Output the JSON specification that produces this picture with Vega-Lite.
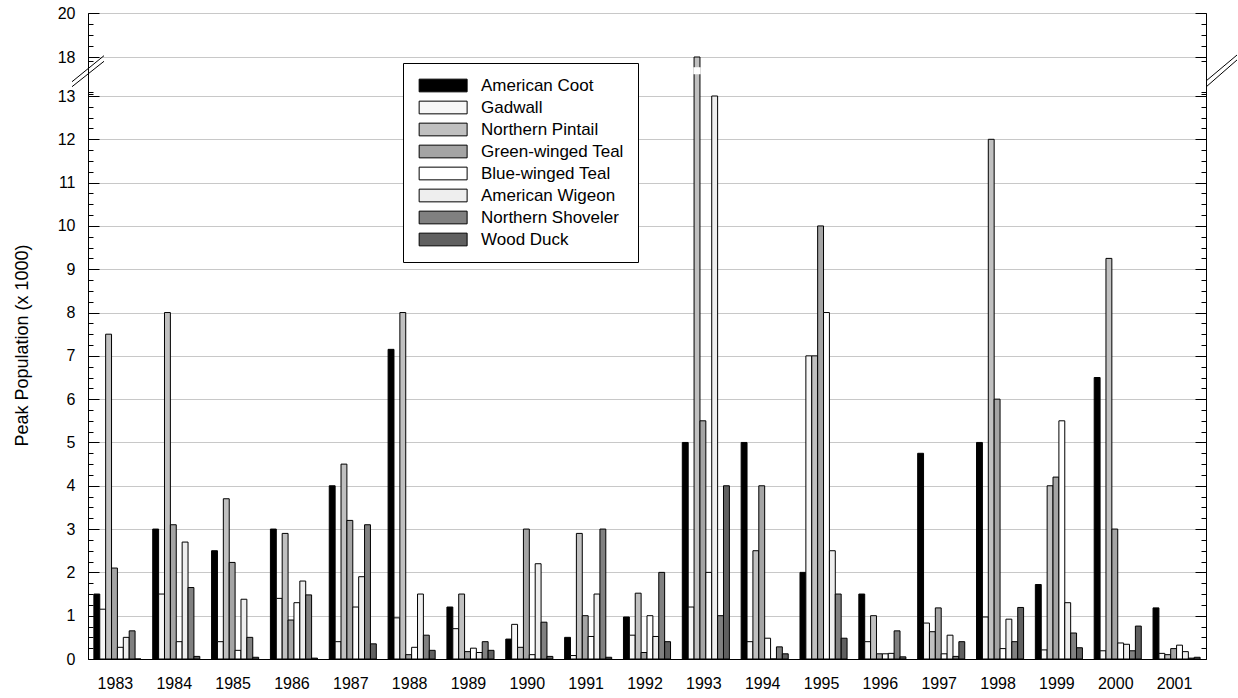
{
  "$schema": "https://vega.github.io/schema/vega-lite/v6.json",
  "width": 1118,
  "height": 646,
  "autosize": {"type": "none"},
  "padding": {"left": 88, "top": 13, "right": 32, "bottom": 39},
  "background": "white",
  "config": {
    "font": "Liberation Sans",
    "view": {"stroke": "black", "strokeWidth": 1},
    "axis": {"domainColor": "black", "tickColor": "black", "labelColor": "black", "titleColor": "black", "domainWidth": 1, "tickWidth": 1}
  },
  "datasets": {
    "peaks": [
      {"year": 1983, "species": "American Coot", "peak": 1.5},
      {"year": 1983, "species": "Gadwall", "peak": 1.15},
      {"year": 1983, "species": "Northern Pintail", "peak": 7.5},
      {"year": 1983, "species": "Green-winged Teal", "peak": 2.1},
      {"year": 1983, "species": "Blue-winged Teal", "peak": 0.27},
      {"year": 1983, "species": "American Wigeon", "peak": 0.5},
      {"year": 1983, "species": "Northern Shoveler", "peak": 0.65},
      {"year": 1983, "species": "Wood Duck", "peak": 0},
      {"year": 1984, "species": "American Coot", "peak": 3.0},
      {"year": 1984, "species": "Gadwall", "peak": 1.5},
      {"year": 1984, "species": "Northern Pintail", "peak": 8.0},
      {"year": 1984, "species": "Green-winged Teal", "peak": 3.1},
      {"year": 1984, "species": "Blue-winged Teal", "peak": 0.4},
      {"year": 1984, "species": "American Wigeon", "peak": 2.7},
      {"year": 1984, "species": "Northern Shoveler", "peak": 1.65},
      {"year": 1984, "species": "Wood Duck", "peak": 0.06},
      {"year": 1985, "species": "American Coot", "peak": 2.5},
      {"year": 1985, "species": "Gadwall", "peak": 0.4},
      {"year": 1985, "species": "Northern Pintail", "peak": 3.7},
      {"year": 1985, "species": "Green-winged Teal", "peak": 2.23},
      {"year": 1985, "species": "Blue-winged Teal", "peak": 0.2},
      {"year": 1985, "species": "American Wigeon", "peak": 1.38},
      {"year": 1985, "species": "Northern Shoveler", "peak": 0.5},
      {"year": 1985, "species": "Wood Duck", "peak": 0.04},
      {"year": 1986, "species": "American Coot", "peak": 3.0},
      {"year": 1986, "species": "Gadwall", "peak": 1.4},
      {"year": 1986, "species": "Northern Pintail", "peak": 2.9},
      {"year": 1986, "species": "Green-winged Teal", "peak": 0.9},
      {"year": 1986, "species": "Blue-winged Teal", "peak": 1.3},
      {"year": 1986, "species": "American Wigeon", "peak": 1.8},
      {"year": 1986, "species": "Northern Shoveler", "peak": 1.48},
      {"year": 1986, "species": "Wood Duck", "peak": 0.02},
      {"year": 1987, "species": "American Coot", "peak": 4.0},
      {"year": 1987, "species": "Gadwall", "peak": 0.4},
      {"year": 1987, "species": "Northern Pintail", "peak": 4.5},
      {"year": 1987, "species": "Green-winged Teal", "peak": 3.2},
      {"year": 1987, "species": "Blue-winged Teal", "peak": 1.2},
      {"year": 1987, "species": "American Wigeon", "peak": 1.9},
      {"year": 1987, "species": "Northern Shoveler", "peak": 3.1},
      {"year": 1987, "species": "Wood Duck", "peak": 0.35},
      {"year": 1988, "species": "American Coot", "peak": 7.15},
      {"year": 1988, "species": "Gadwall", "peak": 0.95},
      {"year": 1988, "species": "Northern Pintail", "peak": 8.0},
      {"year": 1988, "species": "Green-winged Teal", "peak": 0.1},
      {"year": 1988, "species": "Blue-winged Teal", "peak": 0.27},
      {"year": 1988, "species": "American Wigeon", "peak": 1.5},
      {"year": 1988, "species": "Northern Shoveler", "peak": 0.55},
      {"year": 1988, "species": "Wood Duck", "peak": 0.2},
      {"year": 1989, "species": "American Coot", "peak": 1.2},
      {"year": 1989, "species": "Gadwall", "peak": 0.7},
      {"year": 1989, "species": "Northern Pintail", "peak": 1.5},
      {"year": 1989, "species": "Green-winged Teal", "peak": 0.17},
      {"year": 1989, "species": "Blue-winged Teal", "peak": 0.25},
      {"year": 1989, "species": "American Wigeon", "peak": 0.15},
      {"year": 1989, "species": "Northern Shoveler", "peak": 0.4},
      {"year": 1989, "species": "Wood Duck", "peak": 0.2},
      {"year": 1990, "species": "American Coot", "peak": 0.46},
      {"year": 1990, "species": "Gadwall", "peak": 0.8},
      {"year": 1990, "species": "Northern Pintail", "peak": 0.27},
      {"year": 1990, "species": "Green-winged Teal", "peak": 3.0},
      {"year": 1990, "species": "Blue-winged Teal", "peak": 0.1},
      {"year": 1990, "species": "American Wigeon", "peak": 2.2},
      {"year": 1990, "species": "Northern Shoveler", "peak": 0.85},
      {"year": 1990, "species": "Wood Duck", "peak": 0.06},
      {"year": 1991, "species": "American Coot", "peak": 0.5},
      {"year": 1991, "species": "Gadwall", "peak": 0.08},
      {"year": 1991, "species": "Northern Pintail", "peak": 2.9},
      {"year": 1991, "species": "Green-winged Teal", "peak": 1.0},
      {"year": 1991, "species": "Blue-winged Teal", "peak": 0.52},
      {"year": 1991, "species": "American Wigeon", "peak": 1.5},
      {"year": 1991, "species": "Northern Shoveler", "peak": 3.0},
      {"year": 1991, "species": "Wood Duck", "peak": 0.04},
      {"year": 1992, "species": "American Coot", "peak": 0.97},
      {"year": 1992, "species": "Gadwall", "peak": 0.55},
      {"year": 1992, "species": "Northern Pintail", "peak": 1.52},
      {"year": 1992, "species": "Green-winged Teal", "peak": 0.15},
      {"year": 1992, "species": "Blue-winged Teal", "peak": 1.0},
      {"year": 1992, "species": "American Wigeon", "peak": 0.52},
      {"year": 1992, "species": "Northern Shoveler", "peak": 2.0},
      {"year": 1992, "species": "Wood Duck", "peak": 0.4},
      {"year": 1993, "species": "American Coot", "peak": 5.0},
      {"year": 1993, "species": "Gadwall", "peak": 1.2},
      {"year": 1993, "species": "Northern Pintail", "peak": 18.0},
      {"year": 1993, "species": "Green-winged Teal", "peak": 5.5},
      {"year": 1993, "species": "Blue-winged Teal", "peak": 2.0},
      {"year": 1993, "species": "American Wigeon", "peak": 13.0},
      {"year": 1993, "species": "Northern Shoveler", "peak": 1.0},
      {"year": 1993, "species": "Wood Duck", "peak": 4.0},
      {"year": 1994, "species": "American Coot", "peak": 5.0},
      {"year": 1994, "species": "Gadwall", "peak": 0.4},
      {"year": 1994, "species": "Northern Pintail", "peak": 2.5},
      {"year": 1994, "species": "Green-winged Teal", "peak": 4.0},
      {"year": 1994, "species": "Blue-winged Teal", "peak": 0.48},
      {"year": 1994, "species": "American Wigeon", "peak": 0},
      {"year": 1994, "species": "Northern Shoveler", "peak": 0.28},
      {"year": 1994, "species": "Wood Duck", "peak": 0.12},
      {"year": 1995, "species": "American Coot", "peak": 2.0},
      {"year": 1995, "species": "Gadwall", "peak": 7.0},
      {"year": 1995, "species": "Northern Pintail", "peak": 7.0},
      {"year": 1995, "species": "Green-winged Teal", "peak": 10.0},
      {"year": 1995, "species": "Blue-winged Teal", "peak": 8.0},
      {"year": 1995, "species": "American Wigeon", "peak": 2.5},
      {"year": 1995, "species": "Northern Shoveler", "peak": 1.5},
      {"year": 1995, "species": "Wood Duck", "peak": 0.48},
      {"year": 1996, "species": "American Coot", "peak": 1.5},
      {"year": 1996, "species": "Gadwall", "peak": 0.4},
      {"year": 1996, "species": "Northern Pintail", "peak": 1.0},
      {"year": 1996, "species": "Green-winged Teal", "peak": 0.12},
      {"year": 1996, "species": "Blue-winged Teal", "peak": 0.12},
      {"year": 1996, "species": "American Wigeon", "peak": 0.13},
      {"year": 1996, "species": "Northern Shoveler", "peak": 0.65},
      {"year": 1996, "species": "Wood Duck", "peak": 0.05},
      {"year": 1997, "species": "American Coot", "peak": 4.75},
      {"year": 1997, "species": "Gadwall", "peak": 0.83},
      {"year": 1997, "species": "Northern Pintail", "peak": 0.63},
      {"year": 1997, "species": "Green-winged Teal", "peak": 1.18},
      {"year": 1997, "species": "Blue-winged Teal", "peak": 0.12},
      {"year": 1997, "species": "American Wigeon", "peak": 0.55},
      {"year": 1997, "species": "Northern Shoveler", "peak": 0.06},
      {"year": 1997, "species": "Wood Duck", "peak": 0.4},
      {"year": 1998, "species": "American Coot", "peak": 5.0},
      {"year": 1998, "species": "Gadwall", "peak": 0.97},
      {"year": 1998, "species": "Northern Pintail", "peak": 12.0},
      {"year": 1998, "species": "Green-winged Teal", "peak": 6.0},
      {"year": 1998, "species": "Blue-winged Teal", "peak": 0.24},
      {"year": 1998, "species": "American Wigeon", "peak": 0.92},
      {"year": 1998, "species": "Northern Shoveler", "peak": 0.4},
      {"year": 1998, "species": "Wood Duck", "peak": 1.19},
      {"year": 1999, "species": "American Coot", "peak": 1.72},
      {"year": 1999, "species": "Gadwall", "peak": 0.21},
      {"year": 1999, "species": "Northern Pintail", "peak": 4.0},
      {"year": 1999, "species": "Green-winged Teal", "peak": 4.2},
      {"year": 1999, "species": "Blue-winged Teal", "peak": 5.5},
      {"year": 1999, "species": "American Wigeon", "peak": 1.3},
      {"year": 1999, "species": "Northern Shoveler", "peak": 0.6},
      {"year": 1999, "species": "Wood Duck", "peak": 0.26},
      {"year": 2000, "species": "American Coot", "peak": 6.5},
      {"year": 2000, "species": "Gadwall", "peak": 0.19},
      {"year": 2000, "species": "Northern Pintail", "peak": 9.25},
      {"year": 2000, "species": "Green-winged Teal", "peak": 3.0},
      {"year": 2000, "species": "Blue-winged Teal", "peak": 0.37},
      {"year": 2000, "species": "American Wigeon", "peak": 0.34},
      {"year": 2000, "species": "Northern Shoveler", "peak": 0.19},
      {"year": 2000, "species": "Wood Duck", "peak": 0.76},
      {"year": 2001, "species": "American Coot", "peak": 1.18},
      {"year": 2001, "species": "Gadwall", "peak": 0.13},
      {"year": 2001, "species": "Northern Pintail", "peak": 0.1},
      {"year": 2001, "species": "Green-winged Teal", "peak": 0.24},
      {"year": 2001, "species": "Blue-winged Teal", "peak": 0.32},
      {"year": 2001, "species": "American Wigeon", "peak": 0.17},
      {"year": 2001, "species": "Northern Shoveler", "peak": 0.02},
      {"year": 2001, "species": "Wood Duck", "peak": 0.04}
    ],
    "barBreak": [
      {"year": 1993, "species": "Northern Pintail", "from": 15.9, "to": 16.6}
    ],
    "tickAnchor": [{"v": 0}],
    "leftBreak": [
      {"y": 14.83, "y2": 18.06},
      {"y": 14.19, "y2": 17.45}
    ],
    "rightBreak": [
      {"y": 14.92, "y2": 18.09},
      {"y": 14.15, "y2": 17.62}
    ]
  },
  "layer": [
    {
      "data": {"name": "peaks"},
      "mark": {"type": "bar", "stroke": "black", "strokeWidth": 1},
      "encoding": {
        "x": {
          "field": "year",
          "type": "ordinal",
          "scale": {"paddingInner": 0.2, "paddingOuter": 0.1},
          "axis": {"title": null, "ticks": false, "labelAngle": 0, "labelFontSize": 16, "labelPadding": 16, "labelOffset": -2, "grid": false}
        },
        "xOffset": {
          "field": "species",
          "type": "nominal",
          "scale": {
            "domain": ["American Coot", "Gadwall", "Northern Pintail", "Green-winged Teal", "Blue-winged Teal", "American Wigeon", "Northern Shoveler", "Wood Duck"],
            "paddingInner": 0,
            "paddingOuter": 0
          }
        },
        "y": {
          "field": "peak",
          "type": "quantitative",
          "scale": {"domain": [0, 13, 18, 20], "range": [646, 83, 44, 0], "nice": false, "zero": false},
          "axis": {
            "orient": "left",
            "values": [0, 1, 2, 3, 4, 5, 6, 7, 8, 9, 10, 11, 12, 13, 18, 20],
            "title": "Peak Population (x 1000)",
            "titleFontSize": 18,
            "titleFontWeight": "normal",
            "titleAngle": -90,
            "titleX": -66,
            "titleY": 332,
            "titleAlign": "center",
            "titleBaseline": "middle",
            "grid": true,
            "gridColor": "#c8c8c8",
            "gridWidth": 1,
            "tickSize": -11,
            "labelPadding": 24,
            "labelFontSize": 16
          }
        },
        "fill": {
          "field": "species",
          "type": "nominal",
          "scale": {
            "domain": ["American Coot", "Gadwall", "Northern Pintail", "Green-winged Teal", "Blue-winged Teal", "American Wigeon", "Northern Shoveler", "Wood Duck"],
            "range": ["#000000", "#f7f7f7", "#c0c0c0", "#a4a4a4", "#ffffff", "#eeeeee", "#808080", "#606060"]
          },
          "legend": {
            "orient": "none",
            "legendX": 315,
            "legendY": 50,
            "title": null,
            "padding": 14,
            "strokeColor": "black",
            "fillColor": "white",
            "symbolType": "M-1,-1H6.56V1H-1Z",
            "symbolSize": 161,
            "symbolStrokeColor": "black",
            "symbolStrokeWidth": 1,
            "symbolOpacity": 1,
            "labelOffset": 47,
            "labelFontSize": 17,
            "labelColor": "black",
            "labelLimit": 400,
            "rowPadding": 4
          }
        }
      }
    },
    {
      "data": {"name": "barBreak"},
      "mark": {"type": "bar", "fill": "white", "stroke": "white", "strokeWidth": 1.5},
      "encoding": {
        "x": {"field": "year", "type": "ordinal"},
        "xOffset": {"field": "species", "type": "nominal"},
        "y": {"field": "from", "type": "quantitative", "axis": null},
        "y2": {"field": "to"}
      }
    },
    {
      "data": {"name": "tickAnchor"},
      "mark": {"type": "rule", "opacity": 0},
      "encoding": {
        "y": {
          "field": "v",
          "type": "quantitative",
          "axis": {"orient": "right", "values": [0, 1, 2, 3, 4, 5, 6, 7, 8, 9, 10, 11, 12, 13, 18, 20], "labels": false, "grid": false, "title": null, "tickSize": -11}
        }
      }
    },
    {
      "data": {"name": "tickAnchor"},
      "mark": {"type": "rule", "opacity": 0},
      "encoding": {
        "y": {
          "field": "v",
          "type": "quantitative",
          "axis": {
            "orient": "left",
            "values": [0.25, 0.5, 0.75, 1.25, 1.5, 1.75, 2.25, 2.5, 2.75, 3.25, 3.5, 3.75, 4.25, 4.5, 4.75, 5.25, 5.5, 5.75, 6.25, 6.5, 6.75, 7.25, 7.5, 7.75, 8.25, 8.5, 8.75, 9.25, 9.5, 9.75, 10.25, 10.5, 10.75, 11.25, 11.5, 11.75, 12.25, 12.5, 12.75, 13.25, 13.5, 17.5, 18.5, 19, 19.5],
            "labels": false, "grid": false, "domain": false, "title": null, "tickSize": -5
          }
        }
      }
    },
    {
      "data": {"name": "tickAnchor"},
      "mark": {"type": "rule", "opacity": 0},
      "encoding": {
        "y": {
          "field": "v",
          "type": "quantitative",
          "axis": {
            "orient": "right",
            "values": [0.25, 0.5, 0.75, 1.25, 1.5, 1.75, 2.25, 2.5, 2.75, 3.25, 3.5, 3.75, 4.25, 4.5, 4.75, 5.25, 5.5, 5.75, 6.25, 6.5, 6.75, 7.25, 7.5, 7.75, 8.25, 8.5, 8.75, 9.25, 9.5, 9.75, 10.25, 10.5, 10.75, 11.25, 11.5, 11.75, 12.25, 12.5, 12.75, 13.25, 13.5, 17.5, 18.5, 19, 19.5],
            "labels": false, "grid": false, "domain": false, "title": null, "tickSize": -5
          }
        }
      }
    },
    {
      "data": {"name": "leftBreak"},
      "mark": {"type": "rule", "color": "black", "strokeWidth": 1},
      "encoding": {
        "x": {"value": -16},
        "x2": {"value": 16},
        "y": {"field": "y", "type": "quantitative", "axis": null},
        "y2": {"field": "y2"}
      }
    },
    {
      "data": {"name": "rightBreak"},
      "mark": {"type": "rule", "color": "black", "strokeWidth": 1},
      "encoding": {
        "x": {"value": 1118},
        "x2": {"value": 1149},
        "y": {"field": "y", "type": "quantitative", "axis": null},
        "y2": {"field": "y2"}
      }
    }
  ],
  "resolve": {"axis": {"y": "independent"}}
}
